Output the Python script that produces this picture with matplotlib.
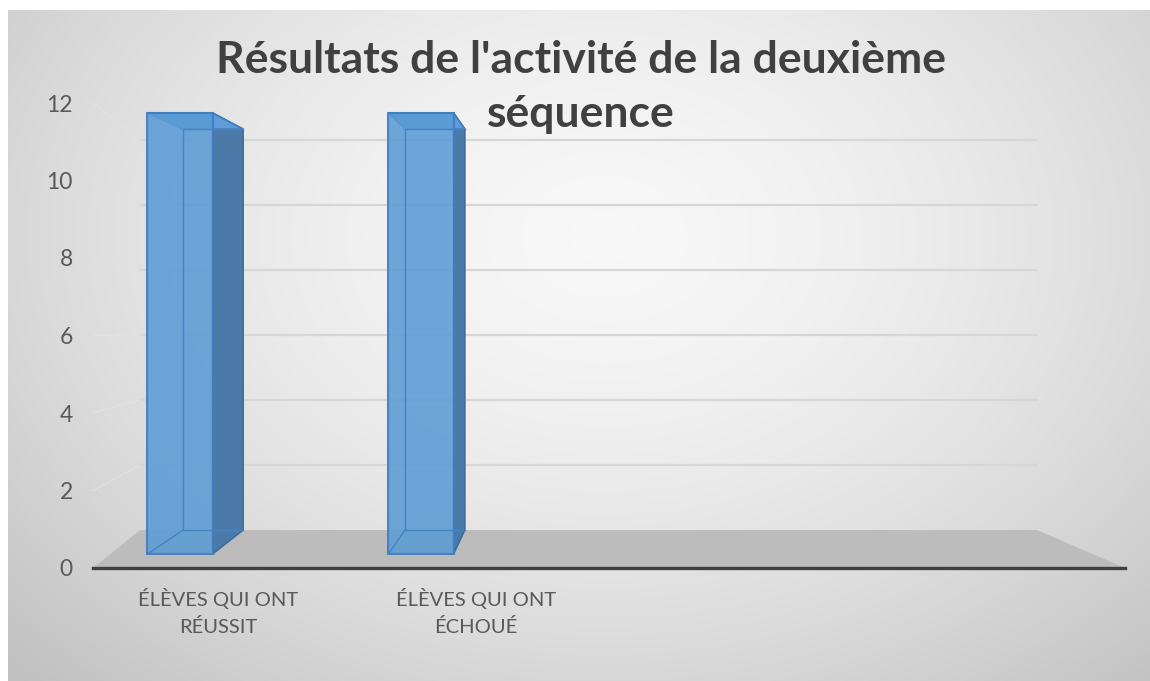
import numpy as np
import matplotlib.pyplot as plt
from matplotlib.patches import Polygon

### data
title = "Résultats de l'activité de la deuxième\nséquence"
categories = ["ÉLÈVES QUI ONT\nRÉUSSIT", "ÉLÈVES QUI ONT\nÉCHOUÉ"]
values = [12, 12]
yticks = [0, 2, 4, 6, 8, 10, 12]

W, H = 1150, 681
plt.rcParams['font.family'] = ['Lato', 'DejaVu Sans']

fig = plt.figure(figsize=(W / 100, H / 100), dpi=100)

# background (pixel coords) with radial grey gradient
bg = fig.add_axes([0, 0, 1, 1])
bg.set_xlim(0, W)
bg.set_ylim(H, 0)
bg.axis('off')
yy, xx = np.mgrid[0:H, 0:W]
r = np.sqrt(((xx - 600) / 700.0) ** 2 + ((yy - 230) / 520.0) ** 2)
shade = 0.97 - 0.16 * np.clip(r, 0, 1.2) ** 1.6
img = np.dstack([shade, shade, shade])
bg.imshow(img, extent=[8, W, H, 10], aspect='auto', zorder=0)

# floor
floor = Polygon([[93, 568], [140, 530], [1037, 530], [1125, 568]],
                closed=True, facecolor='#bcbcbc', edgecolor='none', zorder=1)
bg.add_patch(floor)

pos = [93 / W, 1 - 568 / H, 1032 / W, 465 / H]

# back wall gridlines
ax_wall = fig.add_axes(pos)
ax_wall.set_ylim(-1.169, 13.138)
ax_wall.axis('off')
for v in yticks[1:]:
    ax_wall.axhline(v, xmin=(140 - 93) / 1032, xmax=(1037 - 93) / 1032,
                    color='#d6d6d6', lw=1.6, zorder=2)

# main axis with labels
ax = fig.add_axes(pos)
ax.patch.set_visible(False)
ax.set_ylim(0, 12)
ax.set_xlim(-0.4845, 3.5155)
ax.set_yticks(yticks)
ax.set_yticklabels([str(t) for t in yticks], fontsize=16.5, color='#595959')
ax.set_xticks(range(len(categories)))
ax.set_xticklabels(categories, fontsize=14.5, color='#595959', linespacing=1.6)
ax.tick_params(left=False, bottom=False)
ax.tick_params(axis='y', pad=11)
ax.tick_params(axis='x', pad=11)
for s in ['top', 'right', 'left']:
    ax.spines[s].set_visible(False)
ax.spines['bottom'].set_color('#404040')
ax.spines['bottom'].set_linewidth(2.4)

# side wall lines (perspective), faint
for v in yticks[1:]:
    p1 = ax.transData.transform((ax.get_xlim()[0], v))
    p2 = ax_wall.transData.transform((0, v))
    p2[0] = ax.transAxes.transform(((140 - 93) / 1032, 0))[0]
    a = fig.transFigure.inverted().transform([p1, p2])
    fig.add_artist(plt.Line2D(a[:, 0], a[:, 1], transform=fig.transFigure,
                              color='#e2e2e2', lw=0.8, zorder=1))

# bars (3d look, perspective towards a vanishing point)
ax_bar = fig.add_axes(pos)
ax_bar.axis('off')
ax_bar.set_ylim(-0.381, 12.272)
ax_bar.set_xlim(-0.361, 3.921)
bw = 0.27
vpx, vpy = 1.72, 7.18
cx, cy = 0.08, 0.091


def back(px, py):
    return px + (vpx - px) * cx, py + (vpy - py) * cy


x = np.arange(len(values))
for xi, v in zip(x, values):
    l, rgt = xi - bw / 2, xi + bw / 2
    bl0 = back(l, 0)
    bl1 = back(l, v)
    br0 = back(rgt, 0)
    br1 = back(rgt, v)
    side = Polygon([[rgt, 0], br0, br1, [rgt, v]],
                   facecolor='#4b7aa9', edgecolor='#3d6c9c', lw=1.2, zorder=4)
    top = Polygon([[l, v], bl1, br1, [rgt, v]],
                  facecolor='#5f9cd8', edgecolor='#3f7cc0', lw=1.2, zorder=4)
    ax_bar.add_patch(side)
    ax_bar.add_patch(top)
    # hidden back edges seen through the face
    ax_bar.plot([bl1[0], bl0[0], br0[0]], [bl1[1], bl0[1], br0[1]],
                color='#4683c4', lw=1.0, zorder=6)
    ax_bar.plot([bl1[0], br1[0]], [bl1[1], br1[1]], color='#4683c4', lw=1.0, zorder=6)
    ax_bar.plot([l, bl0[0]], [0, bl0[1]], color='#4683c4', lw=1.0, zorder=6)
ax_bar.bar(x, values, width=bw, color='#5b9bd5', alpha=0.88,
           edgecolor='#3f7cc0', linewidth=1.5, zorder=5)

fig.text(0.5 + 6 / W, 1 - 87 / H, title, ha='center', va='center', fontsize=32,
         fontweight='bold', color='#404040', linespacing=1.4)

fig.savefig('out.png', dpi=100)
